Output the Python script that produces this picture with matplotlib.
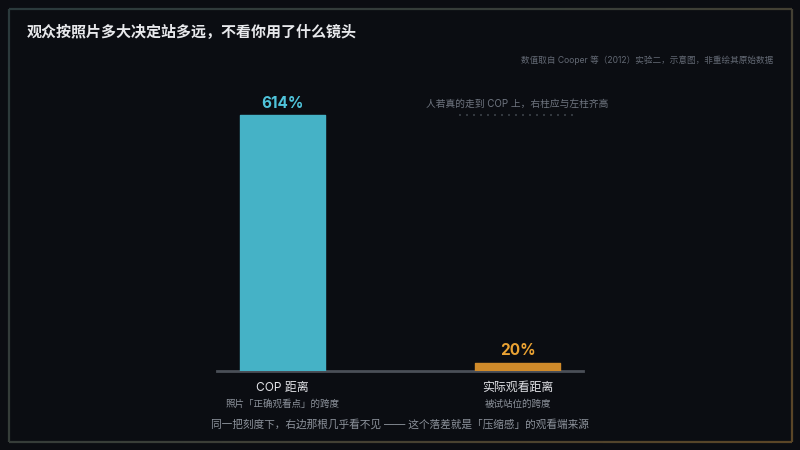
import matplotlib
matplotlib.use("Agg")
import matplotlib.pyplot as plt
import numpy as np
from matplotlib.patches import FancyBboxPatch
from matplotlib.collections import LineCollection
from matplotlib.colors import LinearSegmentedColormap

plt.rcParams['font.family'] = ['Inter', 'Noto Sans CJK SC', 'DejaVu Sans']

# ---- data ----
categories = ["COP 距离", "实际观看距离"]
subtitles = ["照片「正确观看点」的跨度", "被试站位的跨度"]
values = [614, 20]
value_labels = ["614%", "20%"]
bar_colors = ["#45b2c6", "#d08a2a"]
label_colors = ["#4fc3da", "#eaa233"]

title = "观众按照片多大决定站多远，不看你用了什么镜头"
source = "数值取自 Cooper 等（2012）实验二，示意图，非重绘其原始数据"
annotation = "人若真的走到 COP 上，右柱应与左柱齐高"
footer = "同一把刻度下，右边那根几乎看不见 —— 这个落差就是「压缩感」的观看端来源"

BG = "#0b0d12"
W, H = 800, 450
fig = plt.figure(figsize=(8, 4.5), dpi=100, facecolor=BG)

# ---- gradient rounded border ----
bax = fig.add_axes([0, 0, 1, 1])
bax.set_xlim(0, W); bax.set_ylim(H, 0); bax.axis("off")
bax.patch.set_alpha(0)
box = FancyBboxPatch((8.5, 8.5), 783, 433, boxstyle="round,pad=0,rounding_size=11")
verts = box.get_path().interpolated(60).vertices
segs = np.stack([verts[:-1], verts[1:]], axis=1)
t = ((segs[:, 0, 0] + segs[:, 0, 1]) / (W + H))
cmap = LinearSegmentedColormap.from_list("b", ["#2a3a3c", "#3a3e38", "#5c4626"])
lc = LineCollection(segs, colors=cmap(np.clip(t, 0, 1)), linewidths=1.6)
bax.add_collection(lc)

# ---- texts ----
fig.text(27 / W, 1 - 32 / H, title, color="#e8e9ec", fontsize=10.8, fontweight="bold",
         ha="left", va="center")
fig.text(773 / W, 1 - 60 / H, source, color="#626873", fontsize=6.2, ha="right", va="center")
fig.text(400 / W, 1 - 424 / H, footer, color="#8d939c", fontsize=7.7, ha="center", va="center")

# ---- bars ----
ax = fig.add_axes([217 / W, (H - 371) / H, 366 / W, 286 / H])
ax.set_facecolor("none")
x = np.arange(len(values))
ax.bar(x, values, width=0.362, color=bar_colors, edgecolor=bar_colors, linewidth=1,
       joinstyle="round", zorder=3)
ax.set_xlim(-0.279, 1.279)
ax.set_ylim(0, 686)
for s in ["top", "right", "left"]:
    ax.spines[s].set_visible(False)
ax.spines["bottom"].set_color("#4a4f57")
ax.spines["bottom"].set_linewidth(2)
ax.set_yticks([])
ax.set_xticks([])

for xi, v, lab, c in zip(x, values, value_labels, label_colors):
    ax.annotate(lab, (xi, v), xytext=(0, 3), textcoords="offset points",
                ha="center", va="bottom", color=c, fontsize=11, fontweight="bold")

for xi, cat, sub in zip(x, categories, subtitles):
    ax.annotate(cat, (xi, 0), xytext=(0, -12), textcoords="offset points",
                ha="center", va="center", color="#e3e4e8", fontsize=8.6)
    ax.annotate(sub, (xi, 0), xytext=(0, -24), textcoords="offset points",
                ha="center", va="center", color="#8d939c", fontsize=6.85)

# reference line at left bar height over the right bar
ax.plot([x[1] - 0.25, x[1] + 0.25], [values[0], values[0]], linestyle=(0, (1.2, 3)),
        color="#3a4048", linewidth=1.2, zorder=2)
ax.annotate(annotation, (x[1], values[0]), xytext=(0, 8), textcoords="offset points",
            ha="center", va="center", color="#6f7580", fontsize=7.0)

fig.savefig("out.png", dpi=100, facecolor=BG)
